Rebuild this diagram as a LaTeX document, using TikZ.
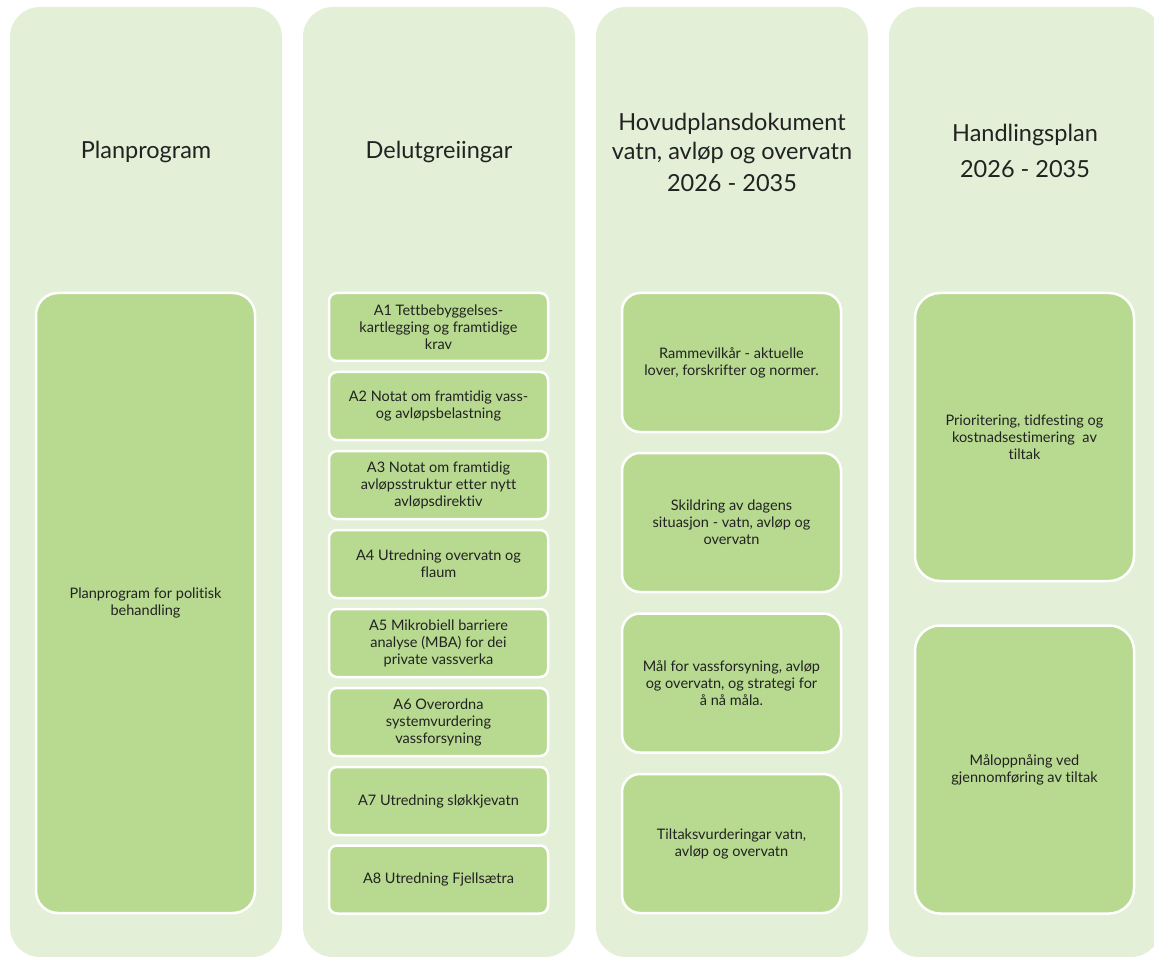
\documentclass[tikz,border=0pt]{standalone}
\usepackage{fontspec}
\setmainfont{Lato}[Ligatures=NoCommon]
\definecolor{colfill}{HTML}{E3F0D7}
\definecolor{boxfill}{HTML}{B7D990}
\definecolor{txt}{HTML}{222222}

\begin{document}
\begin{tikzpicture}[x=1pt,y=-1pt,
  every node/.style={text=txt,align=center,inner sep=0pt},
  column/.style={fill=colfill,rounded corners=30pt,minimum width=272pt,minimum height=950pt},
  head/.style={font=\fontsize{23.5}{29}\selectfont},
  item/.style={fill=boxfill,draw=white,line width=2.5pt,minimum width=219pt,font=\fontsize{14.5}{17}\selectfont},
  small/.style={item,rounded corners=8pt,minimum height=68pt},
  mid/.style={item,rounded corners=18pt,minimum height=139pt},
  tall/.style={item,rounded corners=25pt,minimum height=288pt}]

\useasboundingbox (0,0) rectangle (1154,957);

% columns
\node[column](c1) at (146,482) {};
\node[column](c2) at (439,482) {};
\node[column](c3) at (732,482) {};
\node[column](c4) at (1025,482) {};

% headings
\node[head](h1) at (146,152) {Planprogram};
\node[head](h2) at (439,152) {Delutgreiingar};
\node[head](h3) at (732,152) {Hovudplansdokument\\vatn, avløp og overvatn\\[3pt]2026 - 2035};
\node[head](h4) at (1025,151) {Handlingsplan\\[7pt]2026 - 2035};

% column 1
\node[item,rounded corners=22pt,minimum height=620pt](p1) at (145.5,603) {Planprogram for politisk\\behandling};

% column 2
\node[small](a1) at (438.5,327) {A1 Tettbebyggelses-\\kartlegging og framtidige\\krav};
\node[small](a2) at (438.5,406) {A2 Notat om framtidig vass-\\og avløpsbelastning};
\node[small](a3) at (438.5,485) {A3 Notat om framtidig\\avløpsstruktur etter nytt\\avløpsdirektiv};
\node[small](a4) at (438.5,564) {A4 Utredning overvatn og\\flaum};
\node[small](a5) at (438.5,643) {A5 Mikrobiell barriere\\analyse (MBA) for dei\\private vassverka};
\node[small](a6) at (438.5,722) {A6 Overordna\\systemvurdering\\vassforsyning};
\node[small](a7) at (438.5,801) {A7 Utredning sløkkjevatn};
\node[small](a8) at (438.5,879.5) {A8 Utredning Fjellsætra};

% column 3
\node[mid](d1) at (731.5,362.5) {Rammevilkår - aktuelle\\lover, forskrifter og normer.};
\node[mid](d2) at (731.5,522.5) {Skildring av dagens\\situasjon - vatn, avløp og\\overvatn};
\node[mid](d3) at (731.5,683) {Mål for vassforsyning, avløp\\og overvatn, og strategi for\\å nå måla.};
\node[mid](d4) at (731.5,843.5) {Tiltaksvurderingar vatn,\\avløp og overvatn};

% column 4
\node[tall](t1) at (1024.5,437) {Prioritering, tidfesting og\\kostnadsestimering\ \ av\\tiltak};
\node[tall](t2) at (1024.5,769.5) {Måloppnåing ved\\gjennomføring av tiltak};
\end{tikzpicture}
\end{document}
